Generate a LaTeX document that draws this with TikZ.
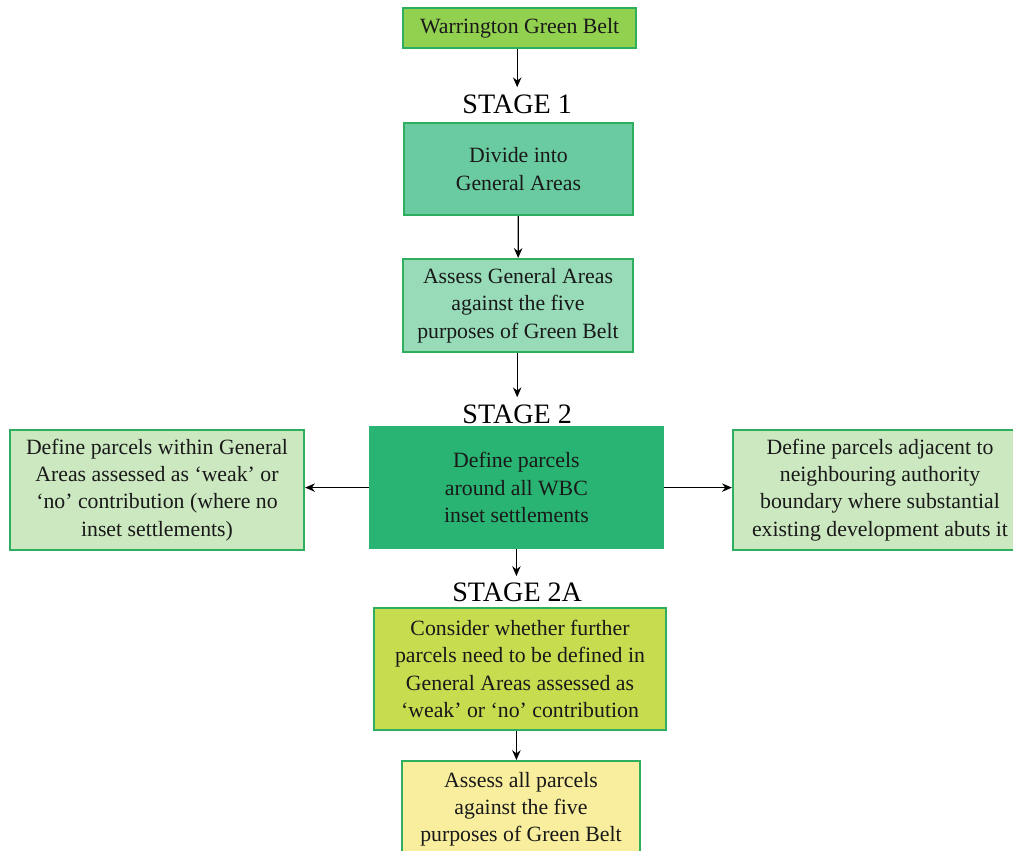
\documentclass[tikz,border=0pt]{standalone}
\usepackage{fontspec}
\setmainfont{Liberation Serif}
\usetikzlibrary{arrows.meta}
\definecolor{BoxLine}{HTML}{2EAE5E}
\definecolor{BeltGreen}{HTML}{92D050}
\definecolor{AreaGreen}{HTML}{6BCBA0}
\definecolor{AssessGreen}{HTML}{97DBB8}
\definecolor{CoreGreen}{HTML}{29B473}
\definecolor{SideGreen}{HTML}{CCE8C0}
\definecolor{StageYellow}{HTML}{C8DC50}
\definecolor{LightYellow}{HTML}{F8EE9E}

\begin{document}
\begin{tikzpicture}[
  box/.style={draw=BoxLine, line width=1.6pt, align=center, inner sep=0pt,
    font=\fontsize{15.5}{19.4}\selectfont, text=black!90},
  stage/.style={font=\fontsize{20}{24}\selectfont, inner sep=0pt},
  link/.style={line width=0.9pt, -{Stealth[length=7pt,width=6pt]}}]
  \useasboundingbox (0,0) rectangle (25.325,-21.25);

  % stage 1
  \node[box, fill=BeltGreen, minimum width=5.825cm, minimum height=1cm]
    (Belt) at (12.99,-0.70) {Warrington Green Belt};
  \node[stage] (StageOne) at (12.93,-2.6) {STAGE 1};
  \node[box, fill=AreaGreen, minimum width=5.725cm, minimum height=2.3cm]
    (Divide) at (12.96,-4.225) {Divide into\\General Areas};
  \node[box, fill=AssessGreen, minimum width=5.75cm, minimum height=2.325cm]
    (AssessAreas) at (12.95,-7.64) {Assess General Areas\\against the five\\purposes of Green Belt};

  % stage 2
  \node[stage] (StageTwo) at (12.93,-10.35) {STAGE 2};
  \node[box, draw=CoreGreen, fill=CoreGreen, minimum width=7.325cm, minimum height=3.025cm]
    (Core) at (12.91,-12.19) {Define parcels\\around all WBC\\inset settlements};
  \node[box, fill=SideGreen, minimum width=7.35cm, minimum height=3cm]
    (Within) at (3.925,-12.25) {Define parcels within General\\Areas assessed as `weak' or\\`no' contribution (where no\\inset settlements)};
  \node[box, fill=SideGreen, minimum width=7.35cm, minimum height=3cm]
    (Adjacent) at (22.0,-12.25) {Define parcels adjacent to\\neighbouring authority\\boundary where substantial\\existing development abuts it};

  % stage 2A
  \node[stage] (StageTwoA) at (12.93,-14.82) {STAGE 2A};
  \node[box, fill=StageYellow, minimum width=7.3cm, minimum height=3.05cm]
    (Consider) at (13.0,-16.725) {Consider whether further\\parcels need to be defined in\\General Areas assessed as\\`weak' or `no' contribution};
  \node[box, fill=LightYellow, minimum width=5.95cm, minimum height=2.4cm]
    (AssessAll) at (13.025,-20.23) {Assess all parcels\\against the five\\purposes of Green Belt};

  \draw[link] (Belt.south -| StageOne) -- ([yshift=5pt]StageOne.north);
  \draw[link] (Divide) -- (AssessAreas);
  \draw[link] (AssessAreas.south -| StageTwo) -- ([yshift=5pt]StageTwo.north);
  \draw[link] (Core.west) -- (Within.east |- Core.west);
  \draw[link] (Core.east) -- (Adjacent.west |- Core.east);
  \draw[link] (Core.south) -- ([yshift=5pt]StageTwoA.north -| Core.south);
  \draw[link] (Consider.south -| Core.south) -- (AssessAll.north -| Core.south);
\end{tikzpicture}
\end{document}
